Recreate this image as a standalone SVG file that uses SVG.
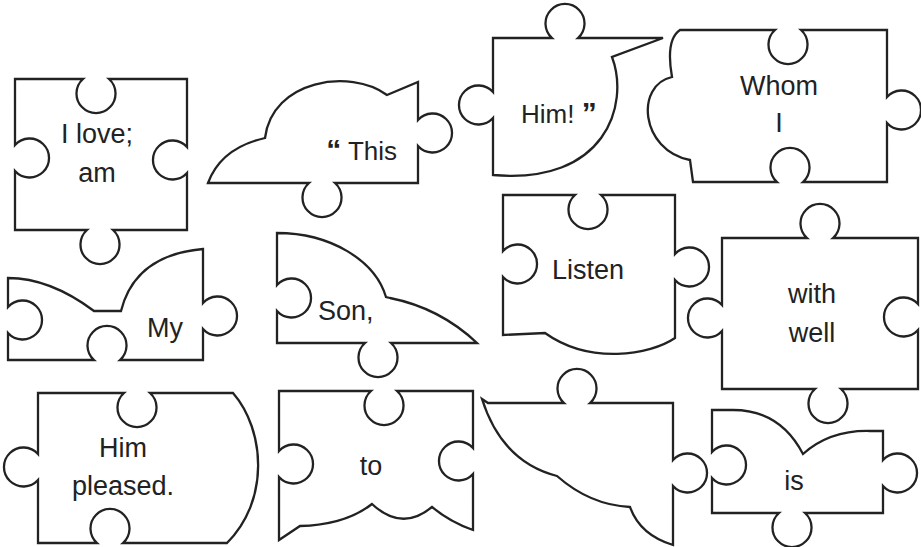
<svg xmlns="http://www.w3.org/2000/svg" width="921" height="547" viewBox="0 0 921 547">
<style>
.p{fill:#fff;stroke:#222;stroke-width:2.3;stroke-linejoin:miter}
.t{font-family:"Liberation Sans",Arial,sans-serif;font-size:27px;fill:#222;text-anchor:middle}
.q{font-weight:bold;font-size:30px}
</style>
<rect width="921" height="547" fill="#fff"/>
<g id="piece-i-love">
<path class="p" d="M15,79 L83,79 A19.5,19.5 0 1 0 109,79 L187,79 L187,147 A19.5,19.5 0 1 0 187,173 L187,230 L113,230 A19.5,19.5 0 1 1 87,230 L15,230 L15,171 A19.5,19.5 0 1 0 15,145 Z"/>
<text class="t" x="97" y="143">I love;</text>
<text class="t" x="97" y="182">am</text>
</g>
<g id="piece-this">
<path class="p" d="M208,183 Q221,148 265,138 C272,80 350,68 387,95 L418,82 L418,120 A19.5,19.5 0 1 1 418,146 L418,183 L335,183 A19.5,19.5 0 1 1 309,183 Z"/>
<text class="t" x="397" y="160" style="text-anchor:end;font-size:26px"><tspan class="q">“</tspan> This</text>
</g>
<g id="piece-him">
<path class="p" d="M493,38 L552,38 A19.5,19.5 0 1 1 578,38 L663,38 L612,57 C630,105 605,185 493,175 L493,118 A19.5,19.5 0 1 1 493,92 Z"/>
<text class="t" x="521" y="123" style="text-anchor:start;font-size:26px">Him! <tspan class="q">”</tspan></text>
</g>
<g id="piece-whom">
<path class="p" d="M680,30 L775,30 A19.5,19.5 0 1 0 801,30 L887,30 L887,97 A19.5,19.5 0 1 1 887,123 L887,182 L803,182 A19.5,19.5 0 1 0 777,182 L693,182 L690,160 C640,150 635,85 672,77 C669,60 668,38 680,30 Z"/>
<text class="t" x="779" y="95">Whom</text>
<text class="t" x="779" y="132">I</text>
</g>
<g id="piece-my">
<path class="p" d="M8,278 Q50,278 94,311 L121,311 Q135,255 203,249 L203,303 A19.5,19.5 0 1 1 203,329 L203,360 L120,360 A19.5,19.5 0 1 0 94,360 L8,360 L8,333 A19.5,19.5 0 1 0 8,307 Z"/>
<text class="t" x="165" y="337">My</text>
</g>
<g id="piece-son">
<path class="p" d="M277,233 C330,233 375,260 386,297 L390,298 Q440,308 477,343 L391,343 A19.5,19.5 0 1 1 365,343 L277,343 L277,311 A19.5,19.5 0 1 0 277,285 Z"/>
<text class="t" x="318" y="320" style="text-anchor:start">Son,</text>
</g>
<g id="piece-listen">
<path class="p" d="M503,195 L575,195 A19.5,19.5 0 1 0 601,195 L675,195 L675,254 A19.5,19.5 0 1 1 675,280 L675,338 C650,355 590,365 545,333 L503,335 L503,277 A19.5,19.5 0 1 0 503,251 Z"/>
<text class="t" x="588" y="279">Listen</text>
</g>
<g id="piece-with">
<path class="p" d="M722,238 L807,238 A19.5,19.5 0 1 1 833,238 L918,238 L918,304 A19.5,19.5 0 1 0 918,330 L918,389 L841,389 A19.5,19.5 0 1 1 815,389 L722,389 L722,331 A19.5,19.5 0 1 1 722,305 Z"/>
<text class="t" x="812" y="303">with</text>
<text class="t" x="812" y="342">well</text>
</g>
<g id="piece-pleased">
<path class="p" d="M38,393 L124,393 A19.5,19.5 0 1 0 150,393 L233,393 C265,430 270,500 227,543 L123,543 A19.5,19.5 0 1 0 97,543 L38,543 L38,480 A19.5,19.5 0 1 1 38,454 Z"/>
<text class="t" x="123" y="457">Him</text>
<text class="t" x="123" y="495">pleased.</text>
</g>
<g id="piece-to">
<path class="p" d="M279,391 L371,391 A19.5,19.5 0 1 0 397,391 L473,391 L473,448 A19.5,19.5 0 1 0 473,474 L473,530 Q450,522 432,507 Q402,532 372,504 Q345,525 300,526 L279,540 L279,477 A19.5,19.5 0 1 0 279,451 Z"/>
<text class="t" x="371" y="475">to</text>
</g>
<g id="piece-blank">
<path class="p" d="M482,399 L488,403 L564,403 A19.5,19.5 0 1 1 590,403 L673,403 L673,460 A19.5,19.5 0 1 1 673,486 L673,545 Q640,535 630,507 Q590,505 557,476 Q502,462 482,399 Z"/>
</g>
<g id="piece-is">
<path class="p" d="M712,410 L733,410 Q780,410 803,454 Q830,430 870,431 L883,431 L883,460 A19.5,19.5 0 1 1 883,486 L883,513 L805,513 A19.5,19.5 0 1 1 779,513 L712,513 L712,478 A19.5,19.5 0 1 0 712,452 Z"/>
<text class="t" x="794" y="490">is</text>
</g>
</svg>
